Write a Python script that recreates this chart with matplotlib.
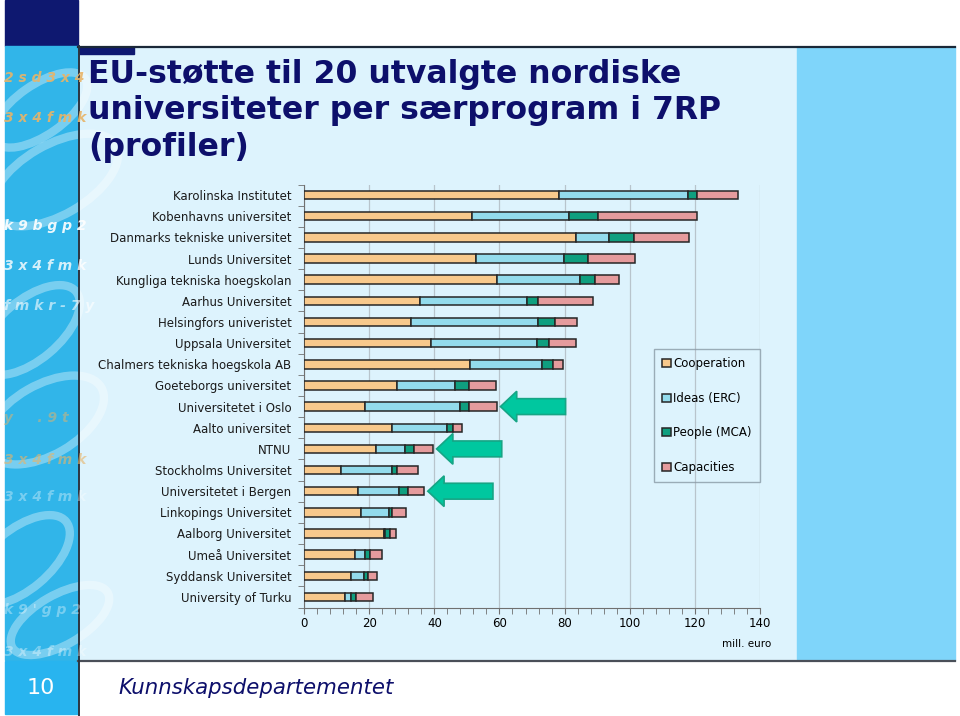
import matplotlib.pyplot as plt
from matplotlib.patches import Rectangle, Ellipse
import numpy as np

# ==================== data ====================
universities = [
    "Karolinska Institutet", "Kobenhavns universitet", "Danmarks tekniske universitet",
    "Lunds Universitet", "Kungliga tekniska hoegskolan", "Aarhus Universitet",
    "Helsingfors univeristet", "Uppsala Universitet", "Chalmers tekniska hoegskola AB",
    "Goeteborgs universitet", "Universitetet i Oslo", "Aalto universitet", "NTNU",
    "Stockholms Universitet", "Universitetet i Bergen", "Linkopings Universitet",
    "Aalborg Universitet", "Umeå Universitet", "Syddansk Universitet", "University of Turku",
]
cooperation = [78.2, 51.5, 83.4, 52.8, 59.1, 35.7, 32.9, 39.0, 51.0, 28.5,
               18.8, 27.1, 22.0, 11.4, 16.7, 17.6, 24.6, 15.5, 14.5, 12.7]
ideas = [39.8, 29.8, 10.2, 27.1, 25.5, 32.7, 38.8, 32.5, 22.2, 17.7,
         29.0, 16.7, 8.9, 15.5, 12.4, 8.6, 0.3, 3.3, 3.9, 1.6]
people = [2.8, 9.0, 7.7, 7.2, 4.8, 3.5, 5.2, 3.7, 3.2, 4.6,
          2.8, 1.9, 2.8, 1.5, 2.9, 0.9, 1.6, 1.6, 1.3, 1.6]
capacities = [12.4, 30.4, 16.8, 14.5, 7.4, 16.8, 7.0, 8.2, 3.1, 8.2,
              8.5, 2.9, 5.8, 6.7, 4.8, 4.1, 1.8, 3.5, 2.6, 5.4]
programmes = ["Cooperation", "Ideas (ERC)", "People (MCA)", "Capacities"]
xticks = [0, 20, 40, 60, 80, 100, 120, 140]
marked = ["Universitetet i Oslo", "NTNU", "Universitetet i Bergen"]

colors = ["#f8c98c", "#93dbec", "#0f9f7f", "#e59b9d"]
navy = "#0d0f6b"

fig = plt.figure(figsize=(9.6, 7.16), dpi=100)

# ==================== slide background (pixel coords) ====================
bg = fig.add_axes([0, 0, 1, 1], zorder=0)
bg.set_xlim(0, 960)
bg.set_ylim(716, 0)
bg.axis("off")

bg.add_patch(Rectangle((5, 0), 73, 46, color="#0e1870"))
stripe = Rectangle((5, 46), 73, 614, color="#31b5e9")
bg.add_patch(stripe)
bg.add_patch(Rectangle((79, 47), 718, 613, color="#ddf3fd"))
bg.add_patch(Rectangle((797, 47), 158, 613, color="#7fd5fa"))
bg.add_patch(Rectangle((79, 47), 55, 7, color="#0e1870"))
bg.add_patch(Rectangle((5, 661), 73, 53, color="#28b4ef"))
bg.plot([78, 955], [46.5, 46.5], color="#1a2838", lw=1.6)
bg.plot([78, 955], [660.5, 660.5], color="#4a4f58", lw=1.6)
bg.plot([78.5, 78.5], [46, 716], color="#2c3440", lw=1.4)

# decorative swirls + letters in the left stripe
for cx, cy, w, h, a in [(40, 110, 110, 50, 35), (55, 180, 140, 70, 30), (30, 330, 120, 60, 40),
                        (45, 420, 130, 70, 30), (20, 560, 120, 60, 40), (60, 620, 110, 50, 30)]:
    e = Ellipse((cx, cy), w, h, angle=-a, fill=False, ec="white", lw=6, alpha=0.35)
    e.set_clip_path(stripe)
    bg.add_patch(e)
for txt, y, col, al in [("2sd3x4", 78, "#e8b468", 0.9), ("3x4fmk", 118, "#e8b468", 0.9),
                        ("k9bgp2", 226, "white", 0.9), ("3x4fmk", 266, "white", 0.8),
                        ("fmkr-7y", 306, "white", 0.6), ("y  .9t", 418, "#e8b468", 0.5),
                        ("3x4fmk", 460, "#e8b468", 0.6), ("3x4fmk", 497, "white", 0.35),
                        ("k9'gp2", 610, "white", 0.35), ("3x4fmk", 652, "white", 0.35)]:
    t = bg.text(4, y, " ".join(txt), color=col, alpha=al, fontsize=10, fontweight="bold",
                style="italic", va="center", ha="left")
    t.set_clip_path(stripe)

# title, footer, page number
for line, yb in [("EU-støtte til 20 utvalgte nordiske", 83),
                 ("universiteter per særprogram i 7RP", 119),
                 ("(profiler)", 156)]:
    bg.text(88, yb, line, color=navy, fontsize=22.7, fontweight="bold", va="baseline")
bg.text(118, 688, "Kunnskapsdepartementet", color=navy, fontsize=15.3, style="italic", va="center")
bg.text(41, 688, "10", color="white", fontsize=16, ha="center", va="center")

# ==================== chart ====================
ax = fig.add_axes([0.3167, 0.1515, 0.475, 0.5908], zorder=1)
ax.set_facecolor("none")
y = np.arange(len(universities))
left = np.zeros(len(universities))
for vals, name, col in zip([cooperation, ideas, people, capacities], programmes, colors):
    ax.barh(y, vals, left=left, height=0.4, color=col, edgecolor="#262626",
            linewidth=1.1, label=name, zorder=3)
    left = left + np.array(vals)

ax.set_ylim(len(universities) - 0.5, -0.5)
ax.set_xlim(0, 140)
ax.set_xticks(xticks)
ax.set_xticks(np.arange(0, 141, 4), minor=True)
ax.set_yticks(y)
ax.set_yticklabels(universities, fontsize=8.5, color="#1a1a1a")
ax.set_yticks(np.arange(-0.5, len(universities), 1), minor=True)
ax.tick_params(axis="y", which="major", length=0, pad=9)
ax.tick_params(axis="y", which="minor", length=4, color="#707070")
ax.tick_params(axis="x", which="both", direction="out", length=4, color="#707070",
               labelsize=8.5, pad=3)
ax.grid(axis="x", color="#b8c4cc", lw=0.9, zorder=0)
for s in ["top", "right"]:
    ax.spines[s].set_visible(False)
for s in ["left", "bottom"]:
    ax.spines[s].set_color("#707070")
ax.text(1.025, -0.075, "mill. euro", transform=ax.transAxes, ha="right", va="top", fontsize=7.5)

# green arrows next to the Norwegian universities
for name in marked:
    i = universities.index(name)
    tip = left[i] + 1.2
    ax.arrow(tip + 20, i, -20, 0, width=0.75, head_width=1.45, head_length=5,
             length_includes_head=True, fc="#00c79f", ec="#16a585", lw=1.2,
             zorder=4, clip_on=False)

leg = ax.legend(loc="upper left", bbox_to_anchor=(654, 349), bbox_transform=bg.transData,
                fontsize=8.5, frameon=True, fancybox=False, borderaxespad=0,
                handlelength=0.7, handleheight=0.7, handletextpad=0.2,
                labelspacing=1.83, borderpad=0.7)
leg.get_frame().set_facecolor("none")
leg.get_frame().set_edgecolor("#8a9aa6")
leg.get_frame().set_linewidth(1)

fig.savefig("out.png", dpi=100)
